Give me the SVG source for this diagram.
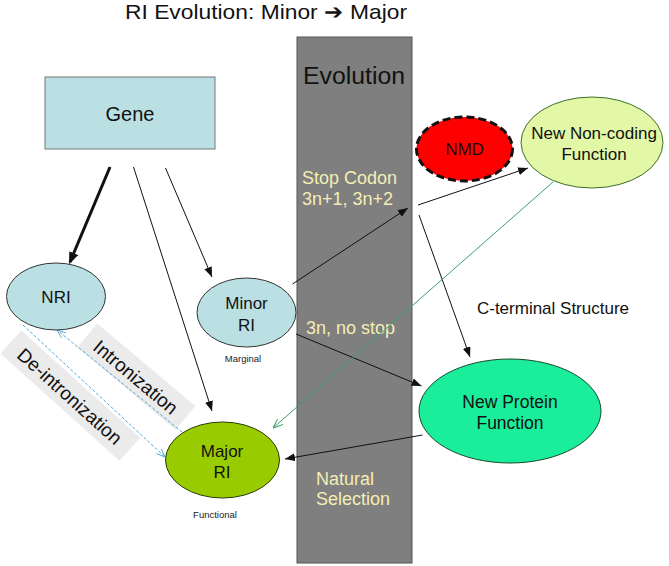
<svg xmlns="http://www.w3.org/2000/svg" width="669" height="566" viewBox="0 0 669 566">
<defs>
<style>
text{font-family:"Liberation Sans",Arial,sans-serif;fill:#111}
.node{stroke-width:1}
.lbl{font-size:17px;text-anchor:middle}
.yl{fill:#f4eeb4;font-size:18px}
.small{font-size:9.5px;text-anchor:middle;fill:#222}
.ln{stroke:#111;stroke-width:1;fill:none;marker-end:url(#ah)}
.blue{stroke:#4aa8e0;stroke-width:1;stroke-dasharray:3,2;fill:none;marker-end:url(#bh)}
.rot{fill:#ebebeb}
.rt{font-size:19px;text-anchor:middle}
</style>
<marker id="ah" viewBox="0 0 10 8" refX="10" refY="4" markerWidth="10" markerHeight="8" markerUnits="userSpaceOnUse" orient="auto"><path d="M0,0 L10,4 L0,8 z" fill="#111"/></marker>
<marker id="ahb" viewBox="0 0 10 8" refX="8" refY="4" markerWidth="12" markerHeight="10" markerUnits="userSpaceOnUse" orient="auto"><path d="M0,0 L10,4 L0,8 z" fill="#111"/></marker>
<marker id="gh" viewBox="0 0 10 8" refX="10" refY="4" markerWidth="10" markerHeight="8" markerUnits="userSpaceOnUse" orient="auto"><path d="M0,0 L10,4 L0,8" fill="none" stroke="#3aa06a" stroke-width="1"/></marker>
<marker id="bh" viewBox="0 0 10 8" refX="10" refY="4" markerWidth="9" markerHeight="7" markerUnits="userSpaceOnUse" orient="auto"><path d="M0,0 L10,4 L0,8" fill="none" stroke="#4aa8e0" stroke-width="1"/></marker>
</defs>
<rect width="669" height="566" fill="#fff"/>
<text x="125" y="19" textLength="282" lengthAdjust="spacingAndGlyphs" style="font-size:21px;fill:#111">RI Evolution: Minor ➔ Major</text>

<g id="evolution-bar">
<rect x="297" y="37" width="115" height="526" fill="#7f7f7f" stroke="#555" stroke-width="1"/>
<text x="303" y="84" textLength="102" lengthAdjust="spacingAndGlyphs" style="font-size:23px">Evolution</text>
<text class="yl" x="302" y="184">Stop Codon</text>
<text class="yl" x="302" y="205">3n+1, 3n+2</text>
<text class="yl" x="306" y="334">3n, no stop</text>
<text class="yl" x="316" y="485">Natural</text>
<text class="yl" x="316" y="505">Selection</text>
</g>

<g id="label-intronization">
<g transform="translate(136,377) rotate(40)">
<rect class="rot" x="-64" y="-16" width="128" height="31"/>
<text class="rt" x="0" y="7">Intronization</text>
</g>
</g>
<g id="label-deintronization">
<g transform="translate(70,396) rotate(42)">
<rect class="rot" x="-80" y="-16" width="160" height="31"/>
<text class="rt" x="0" y="7">De-intronization</text>
</g>
</g>

<g id="connectors">
<line x1="110" y1="167" x2="70" y2="262" stroke="#111" stroke-width="3" marker-end="url(#ahb)"/>
<line class="ln" x1="133.5" y1="167" x2="212" y2="411"/>
<line class="ln" x1="165.5" y1="168" x2="212" y2="277"/>
<line class="ln" x1="292.5" y1="284" x2="408" y2="208"/>
<line class="ln" x1="418" y1="205" x2="528" y2="168"/>
<line class="ln" x1="419" y1="215" x2="470" y2="357"/>
<line class="ln" x1="296" y1="334" x2="421.5" y2="386"/>
<line class="ln" x1="422.5" y1="435" x2="285" y2="459"/>
<line x1="553" y1="182" x2="273" y2="428" stroke="#3aa06a" stroke-width="1" marker-end="url(#gh)"/>
<line class="blue" x1="23" y1="325" x2="165" y2="457"/>
<line class="blue" x1="182" y1="432" x2="57" y2="330"/>
</g>

<g id="gene">
<rect x="45" y="77" width="170" height="72" fill="#bae0e3" stroke="#777" stroke-width="1"/>
<text x="130" y="121" style="font-size:20px;text-anchor:middle">Gene</text>
</g>

<g id="nri">
<ellipse cx="56" cy="296.5" rx="49.5" ry="33.5" fill="#bae0e3" stroke="#333" class="node"/>
<text class="lbl" x="56" y="303">NRI</text>
</g>

<g id="minor-ri">
<ellipse cx="246.5" cy="312.5" rx="49.5" ry="34.5" fill="#bae0e3" stroke="#333" class="node"/>
<text class="lbl" x="246.5" y="309">Minor</text>
<text class="lbl" x="246.5" y="331">RI</text>
<text class="small" x="243" y="362">Marginal</text>
</g>

<g id="major-ri">
<ellipse cx="222.5" cy="460" rx="57" ry="38" fill="#99cc00" stroke="#2a3a00" class="node"/>
<text class="lbl" x="222" y="457">Major</text>
<text class="lbl" x="222" y="478">RI</text>
<text class="small" x="215" y="518">Functional</text>
</g>

<g id="nmd">
<ellipse cx="464.5" cy="149" rx="48" ry="32" fill="#f00" stroke="#111" stroke-width="3" stroke-dasharray="8,4"/>
<text class="lbl" x="464.5" y="155">NMD</text>
</g>

<g id="new-noncoding">
<ellipse cx="592" cy="142.5" rx="71" ry="45.5" fill="#e2f8a6" stroke="#3b6e2a" class="node"/>
<text class="lbl" x="594" y="139">New Non-coding</text>
<text class="lbl" x="594" y="160">Function</text>
</g>

<g id="new-protein">
<ellipse cx="510" cy="411" rx="91" ry="52" fill="#1aee9b" stroke="#1a4a2a" class="node"/>
<text class="lbl" x="510" y="408" style="font-size:17.5px">New Protein</text>
<text class="lbl" x="510" y="429" style="font-size:17.5px">Function</text>
</g>

<text x="553" y="314" style="font-size:17px;text-anchor:middle">C-terminal Structure</text>
</svg>
